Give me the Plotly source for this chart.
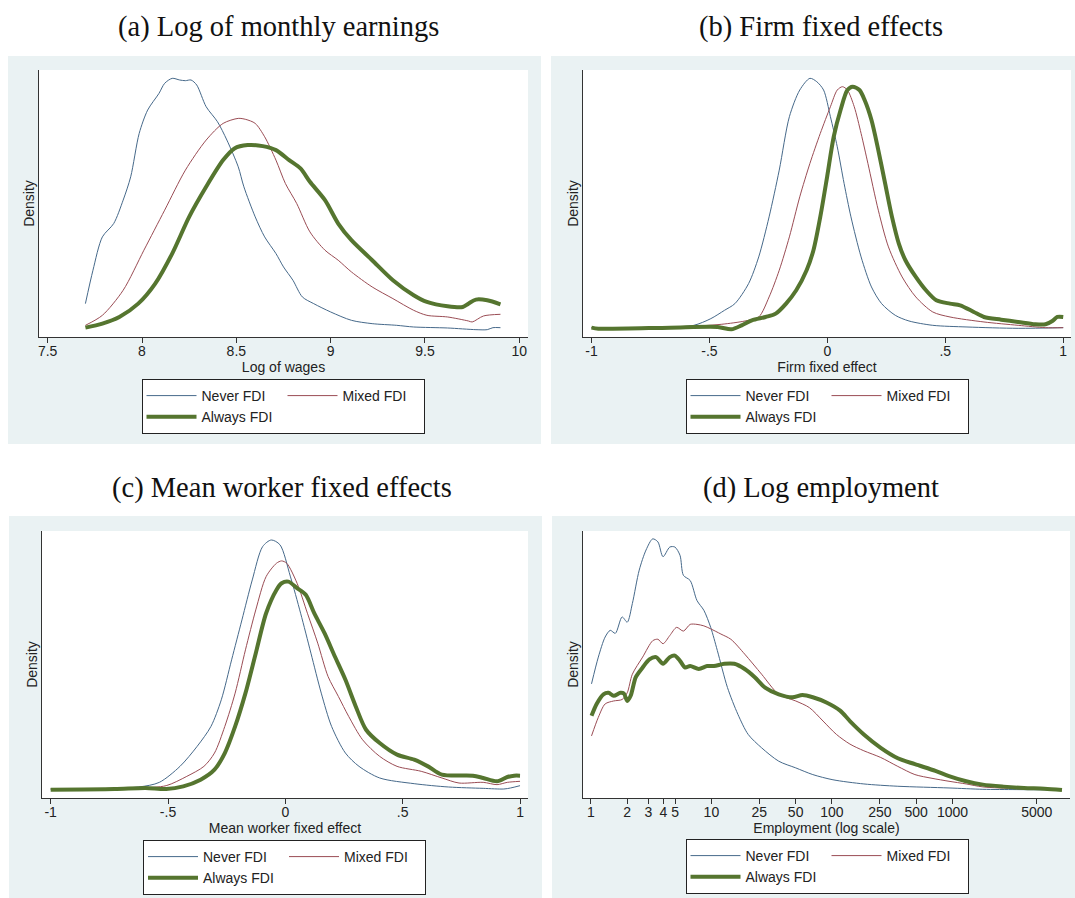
import plotly.graph_objects as go

# ---------------- data ----------------
# (a) Log of monthly earnings
a_never_x = [7.70, 7.74, 7.79, 7.85, 7.90, 7.94, 7.985, 8.03, 8.09, 8.12, 8.16, 8.20, 8.23, 8.26, 8.29, 8.34, 8.40, 8.45, 8.51, 8.54, 8.60, 8.65, 8.71, 8.75, 8.80, 8.85, 8.91, 9.00, 9.11, 9.22, 9.35, 9.44, 9.62, 9.77, 9.83, 9.86, 9.90]
a_never_y = [0.18, 0.38, 0.58, 0.66, 0.80, 0.94, 1.20, 1.34, 1.44, 1.50, 1.53, 1.52, 1.516, 1.52, 1.49, 1.36, 1.27, 1.16, 1.00, 0.88, 0.70, 0.58, 0.48, 0.40, 0.32, 0.22, 0.18, 0.13, 0.08, 0.06, 0.05, 0.04, 0.034, 0.024, 0.024, 0.036, 0.036]
a_mixed_x = [7.70, 7.79, 7.90, 8.01, 8.12, 8.23, 8.34, 8.43, 8.51, 8.55, 8.60, 8.65, 8.71, 8.76, 8.82, 8.89, 8.97, 9.04, 9.11, 9.22, 9.33, 9.44, 9.51, 9.62, 9.73, 9.75, 9.81, 9.90]
a_mixed_y = [0.05, 0.11, 0.26, 0.50, 0.74, 0.98, 1.16, 1.26, 1.29, 1.284, 1.26, 1.18, 1.04, 0.90, 0.78, 0.61, 0.50, 0.44, 0.37, 0.28, 0.21, 0.14, 0.11, 0.10, 0.076, 0.07, 0.106, 0.116]
a_always_x = [7.70, 7.79, 7.88, 7.98, 8.07, 8.16, 8.25, 8.34, 8.43, 8.49, 8.56, 8.64, 8.71, 8.78, 8.84, 8.89, 8.97, 9.04, 9.11, 9.22, 9.33, 9.44, 9.51, 9.62, 9.70, 9.73, 9.77, 9.83, 9.90]
a_always_y = [0.036, 0.06, 0.10, 0.18, 0.30, 0.48, 0.70, 0.88, 1.04, 1.11, 1.13, 1.124, 1.10, 1.04, 0.99, 0.91, 0.80, 0.66, 0.56, 0.44, 0.32, 0.23, 0.19, 0.164, 0.16, 0.18, 0.204, 0.20, 0.176]

# (b) Firm fixed effects
b_never_x = [-1.0, -0.667, -0.566, -0.494, -0.436, -0.392, -0.334, -0.291, -0.247, -0.204, -0.161, -0.117, -0.074, -0.045, -0.016, 0.013, 0.042, 0.071, 0.100, 0.143, 0.187, 0.230, 0.288, 0.346, 0.447, 0.592, 0.809, 1.0]
b_never_y = [0.072, 0.08, 0.10, 0.18, 0.28, 0.36, 0.60, 0.92, 1.40, 1.96, 2.60, 2.92, 3.06, 3.02, 2.92, 2.60, 2.24, 1.80, 1.40, 0.92, 0.56, 0.36, 0.22, 0.152, 0.10, 0.08, 0.064, 0.072]
b_mixed_x = [-1.0, -0.638, -0.450, -0.349, -0.291, -0.247, -0.204, -0.161, -0.117, -0.074, -0.030, 0.013, 0.042, 0.064, 0.085, 0.114, 0.143, 0.172, 0.216, 0.259, 0.317, 0.375, 0.447, 0.520, 0.664, 0.809, 0.925, 1.0]
b_mixed_y = [0.072, 0.08, 0.112, 0.152, 0.20, 0.44, 0.76, 1.16, 1.64, 2.04, 2.40, 2.72, 2.92, 2.96, 2.92, 2.72, 2.40, 2.04, 1.48, 1.04, 0.68, 0.44, 0.26, 0.20, 0.14, 0.10, 0.072, 0.072]
b_always_x = [-1.0, -0.971, -0.667, -0.465, -0.407, -0.363, -0.320, -0.262, -0.219, -0.175, -0.132, -0.088, -0.059, -0.030, -0.001, 0.027, 0.056, 0.085, 0.107, 0.136, 0.158, 0.187, 0.216, 0.245, 0.274, 0.303, 0.331, 0.375, 0.418, 0.462, 0.520, 0.563, 0.621, 0.664, 0.737, 0.809, 0.881, 0.925, 0.954, 0.975, 1.0]
b_always_y = [0.072, 0.06, 0.072, 0.08, 0.052, 0.10, 0.16, 0.20, 0.24, 0.36, 0.52, 0.76, 1.00, 1.40, 1.88, 2.36, 2.68, 2.92, 2.96, 2.92, 2.80, 2.56, 2.20, 1.80, 1.40, 1.08, 0.88, 0.68, 0.52, 0.40, 0.36, 0.34, 0.26, 0.20, 0.168, 0.14, 0.112, 0.112, 0.152, 0.20, 0.20]

# (c) Mean worker fixed effects
c_never_x = [-1.0, -0.626, -0.537, -0.449, -0.376, -0.317, -0.273, -0.229, -0.185, -0.141, -0.097, -0.060, -0.023, 0.021, 0.065, 0.109, 0.153, 0.197, 0.256, 0.314, 0.402, 0.549, 0.696, 0.843, 0.931, 0.960, 1.0]
c_never_y = [0.042, 0.063, 0.112, 0.28, 0.49, 0.70, 0.98, 1.40, 1.82, 2.24, 2.59, 2.66, 2.61, 2.28, 1.89, 1.47, 1.05, 0.70, 0.42, 0.28, 0.158, 0.098, 0.063, 0.049, 0.042, 0.053, 0.077]
c_mixed_x = [-1.0, -0.626, -0.508, -0.420, -0.347, -0.302, -0.258, -0.214, -0.170, -0.126, -0.082, -0.038, -0.016, 0.006, 0.050, 0.094, 0.138, 0.182, 0.226, 0.270, 0.329, 0.402, 0.476, 0.579, 0.667, 0.740, 0.843, 0.902, 0.946, 1.0]
c_mixed_y = [0.042, 0.053, 0.077, 0.175, 0.28, 0.42, 0.70, 1.05, 1.505, 1.925, 2.275, 2.415, 2.44, 2.415, 2.205, 1.89, 1.575, 1.225, 1.015, 0.805, 0.56, 0.385, 0.28, 0.228, 0.158, 0.105, 0.112, 0.088, 0.112, 0.123]
c_always_x = [-1.0, -0.728, -0.596, -0.508, -0.435, -0.361, -0.302, -0.258, -0.214, -0.170, -0.126, -0.082, -0.038, -0.016, 0.013, 0.050, 0.087, 0.123, 0.167, 0.211, 0.256, 0.300, 0.344, 0.402, 0.476, 0.549, 0.608, 0.667, 0.799, 0.843, 0.902, 0.946, 0.975, 1.0]
c_always_y = [0.035, 0.042, 0.053, 0.042, 0.07, 0.14, 0.245, 0.42, 0.70, 1.05, 1.47, 1.89, 2.135, 2.205, 2.222, 2.153, 2.083, 1.89, 1.68, 1.435, 1.19, 0.91, 0.665, 0.525, 0.403, 0.35, 0.28, 0.193, 0.182, 0.158, 0.123, 0.168, 0.182, 0.182]

# (d) Log employment (x in employees, log axis)
d_never_x = [1.013, 1.154, 1.314, 1.449, 1.597, 1.818, 2.004, 2.21, 2.52, 2.87, 3.26, 3.60, 3.97, 4.52, 4.98, 5.49, 5.86, 6.67, 7.60, 8.66, 9.87, 11.2, 13.6, 16.6, 20.2, 26.1, 36.2, 50.1, 69.4, 102, 184, 352, 936, 1788, 3418, 8100]
d_never_y = [0.149, 0.185, 0.212, 0.221, 0.217, 0.239, 0.232, 0.257, 0.302, 0.329, 0.344, 0.340, 0.320, 0.333, 0.333, 0.322, 0.295, 0.288, 0.261, 0.248, 0.225, 0.194, 0.144, 0.108, 0.081, 0.063, 0.045, 0.036, 0.027, 0.020, 0.0144, 0.0113, 0.009, 0.0072, 0.0068, 0.0063]
d_mixed_x = [1.013, 1.154, 1.314, 1.546, 1.818, 2.004, 2.21, 2.69, 3.26, 3.60, 3.97, 4.52, 5.15, 5.86, 6.67, 7.60, 8.66, 9.87, 12.0, 14.5, 18.9, 26.1, 36.2, 50.1, 65.1, 84.4, 109, 141, 184, 254, 352, 488, 676, 936, 1300, 1788, 3418, 8100]
d_mixed_y = [0.079, 0.104, 0.122, 0.126, 0.128, 0.137, 0.162, 0.185, 0.207, 0.209, 0.203, 0.214, 0.225, 0.220, 0.229, 0.229, 0.227, 0.223, 0.216, 0.209, 0.189, 0.162, 0.135, 0.126, 0.117, 0.099, 0.081, 0.068, 0.059, 0.050, 0.038, 0.027, 0.022, 0.018, 0.0144, 0.0104, 0.0081, 0.0063]
d_always_x = [1.013, 1.117, 1.272, 1.402, 1.546, 1.76, 1.88, 2.004, 2.14, 2.36, 2.69, 3.06, 3.48, 3.97, 4.52, 4.98, 5.49, 6.06, 6.67, 7.86, 9.23, 10.5, 12.8, 15.5, 18.9, 22.9, 27.9, 36.2, 47, 57, 69.4, 90, 117, 141, 184, 254, 352, 488, 722, 936, 1300, 1788, 2650, 3920, 5800, 8100]
d_always_y = [0.106, 0.122, 0.135, 0.137, 0.133, 0.137, 0.136, 0.126, 0.133, 0.158, 0.171, 0.182, 0.185, 0.176, 0.185, 0.187, 0.180, 0.171, 0.173, 0.169, 0.173, 0.173, 0.176, 0.176, 0.169, 0.158, 0.144, 0.135, 0.131, 0.134, 0.131, 0.124, 0.113, 0.099, 0.081, 0.063, 0.049, 0.041, 0.032, 0.025, 0.018, 0.0135, 0.0108, 0.009, 0.0081, 0.0063]

series_names = ["Never FDI", "Mixed FDI", "Always FDI"]
panel_titles = ["(a) Log of monthly earnings", "(b) Firm fixed effects",
                "(c) Mean worker fixed effects", "(d) Log employment"]
x_titles = ["Log of wages", "Firm fixed effect", "Mean worker fixed effect", "Employment (log scale)"]

a_ticks = [7.5, 8, 8.5, 9, 9.5, 10]
a_ticktext = ["7.5", "8", "8.5", "9", "9.5", "10"]
fe_ticks = [-1, -0.5, 0, 0.5, 1]
fe_ticktext = ["-1", "-.5", "0", ".5", "1"]
d_ticks = [1, 2, 3, 4, 5, 10, 25, 50, 100, 250, 500, 1000, 5000]
d_ticktext = [str(v) for v in d_ticks]

# ---------------- styling ----------------
W, H = 1075, 898
COL_NEVER = "#46698a"
COL_MIXED = "#9a4c54"
COL_ALWAYS = "#55752f"
PANEL_BG = "#eaf2f3"
SANS = "Liberation Sans, Arial, sans-serif"
SERIF = "Liberation Serif, Times New Roman, serif"
FS = 14

def px_x(p):
    return p / W

def px_y(p):
    return 1 - p / H

# plot areas in pixels: (left, right, top, bottom)
plot_boxes = [(39, 528, 70, 337), (583, 1071, 70, 337), (42, 528, 531, 798), (583, 1070, 531, 798)]
panel_boxes = [(8, 541, 56, 444), (551, 1075, 56, 444), (9, 542, 516, 898), (552, 1075, 516, 898)]
legend_pos = [(283, 379), (827, 379), (284.5, 840), (827, 839)]
title_pos = [(278, 27), (821, 27), (282, 488), (821, 488)]

fig = go.Figure()

data = [
    (a_never_x, a_never_y, a_mixed_x, a_mixed_y, a_always_x, a_always_y),
    (b_never_x, b_never_y, b_mixed_x, b_mixed_y, b_always_x, b_always_y),
    (c_never_x, c_never_y, c_mixed_x, c_mixed_y, c_always_x, c_always_y),
    (d_never_x, d_never_y, d_mixed_x, d_mixed_y, d_always_x, d_always_y),
]
legend_ids = ["legend", "legend2", "legend3", "legend4"]

for i, (nx, ny, mx, my, ax_, ay) in enumerate(data):
    xa = "x" if i == 0 else f"x{i+1}"
    ya = "y" if i == 0 else f"y{i+1}"
    lg = legend_ids[i]
    fig.add_trace(go.Scatter(x=nx, y=ny, mode="lines", name=series_names[0],
                             line=dict(color=COL_NEVER, width=1, shape="spline", smoothing=0.8),
                             xaxis=xa, yaxis=ya, legend=lg, legendgroup=f"g{i}a"))
    fig.add_trace(go.Scatter(x=mx, y=my, mode="lines", name=series_names[1],
                             line=dict(color=COL_MIXED, width=1, shape="spline", smoothing=0.8),
                             xaxis=xa, yaxis=ya, legend=lg, legendgroup=f"g{i}b"))
    fig.add_trace(go.Scatter(x=ax_, y=ay, mode="lines", name=series_names[2],
                             line=dict(color=COL_ALWAYS, width=4, shape="spline", smoothing=0.8),
                             xaxis=xa, yaxis=ya, legend=lg, legendgroup=f"g{i}a"))

x_ranges = [[7.454, 10.046], [-1.036, 1.033], [-1.037, 1.034], [-0.065, 3.975]]
y_ranges = [[-0.02, 1.58], [-0.04, 3.16], [-0.0525, 2.7545], [-0.0045, 0.3546]]
tick_sets = [(a_ticks, a_ticktext), (fe_ticks, fe_ticktext), (fe_ticks, fe_ticktext), (d_ticks, d_ticktext)]

layout = dict(
    width=W, height=H,
    margin=dict(l=0, r=0, t=0, b=0),
    paper_bgcolor="white",
    plot_bgcolor="white",
    font=dict(family=SANS, size=FS, color="#222"),
    showlegend=True,
)

shapes = []
annotations = []
for i in range(4):
    l, r, t, b = plot_boxes[i]
    xk = "xaxis" if i == 0 else f"xaxis{i+1}"
    yk = "yaxis" if i == 0 else f"yaxis{i+1}"
    yref = "y" if i == 0 else f"y{i+1}"
    xref = "x" if i == 0 else f"x{i+1}"
    tv, tt = tick_sets[i]
    layout[xk] = dict(
        domain=[px_x(l), px_x(r)], anchor=yref,
        range=x_ranges[i], type="log" if i == 3 else "linear",
        tickmode="array", tickvals=tv, ticktext=tt,
        ticks="outside", ticklen=5, tickwidth=1, tickcolor="#333",
        ticklabelstandoff=-4,
        showline=True, linecolor="#333", linewidth=1,
        showgrid=False, zeroline=False,
        tickfont=dict(family=SANS, size=FS, color="#222"),
        title=dict(text=x_titles[i], font=dict(family=SANS, size=FS, color="#222"), standoff=0),
        fixedrange=True,
    )
    layout[yk] = dict(
        domain=[px_y(b), px_y(t)], anchor=xref,
        range=y_ranges[i],
        showticklabels=False, ticks="",
        showline=True, linecolor="#333", linewidth=1,
        showgrid=False, zeroline=False,
        title=dict(text="Density", font=dict(family=SANS, size=FS, color="#222"), standoff=0),
        fixedrange=True,
    )
    pl, pr, pt, pb = panel_boxes[i]
    shapes.append(dict(type="rect", xref="paper", yref="paper",
                       x0=px_x(pl), x1=px_x(pr), y0=px_y(pb), y1=px_y(pt),
                       fillcolor=PANEL_BG, line=dict(width=0), layer="below"))
    shapes.append(dict(type="rect", xref=f"{xref} domain", yref=f"{yref} domain",
                       x0=0, x1=1, y0=0, y1=1,
                       fillcolor="white", line=dict(width=0), layer="below"))
    lx, ly = legend_pos[i]
    layout[legend_ids[i]] = dict(
        x=px_x(lx), y=px_y(ly), xanchor="center", yanchor="top",
        orientation="h", traceorder="grouped", tracegroupgap=20,
        entrywidth=76,
        bgcolor="white", bordercolor="#222", borderwidth=1,
        font=dict(family=SANS, size=FS, color="#222"),
        itemwidth=50,
    )
    tx, ty = title_pos[i]
    annotations.append(dict(text=panel_titles[i], x=px_x(tx), y=px_y(ty),
                            xref="paper", yref="paper", showarrow=False,
                            xanchor="center", yanchor="middle",
                            font=dict(family=SERIF, size=28.5, color="#111")))

layout["shapes"] = shapes
layout["annotations"] = annotations
fig.update_layout(**layout)

fig.write_html("out.html", config={"displayModeBar": False},
               post_script="document.body.style.margin='0';document.body.style.overflow='hidden';")
